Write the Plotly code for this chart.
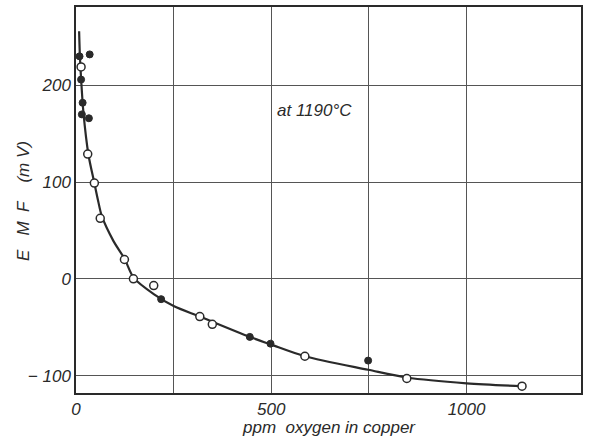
import plotly.graph_objects as go

# Curve (fitted line) through the data
curve_x = [8, 10, 13, 19, 32, 47, 57, 66, 96, 124, 148, 200, 250, 317, 445, 500, 586, 748, 847, 1000, 1142]
curve_y = [256, 230, 207, 172, 128, 99, 80, 65, 39, 21, 1, -16, -28, -39, -60, -68, -80, -94, -102, -108, -111]

# Open-circle measurements
open_x = [13, 30, 47, 62, 124, 147, 199, 317, 349, 586, 847, 1142]
open_y = [219, 129, 99, 62.6, 20, 0, -7, -39, -47, -80, -103, -111]

# Filled-circle measurements
filled_x = [9, 35, 13, 17, 15, 33, 218, 445, 498, 748]
filled_y = [230, 232, 206, 182, 170, 166, -21, -60, -67, -84.5]

x_grid = [0, 250, 500, 750, 1000]
x_ticktext = ["0", "", "500", "", "1000"]
y_grid = [-100, 0, 100, 200]
y_ticktext = ["\u2212 100", "0", "100", "200"]

ink = "#2a2a2a"
font_family = "Liberation Sans, Arial, sans-serif"
nb = "\u00a0"

fig = go.Figure()
fig.add_trace(go.Scatter(x=curve_x, y=curve_y, mode="lines",
                         line=dict(color=ink, width=2.2, shape="spline", smoothing=0.8),
                         hoverinfo="skip", showlegend=False))
fig.add_trace(go.Scatter(x=filled_x, y=filled_y, mode="markers",
                         marker=dict(size=7, color=ink, line=dict(color=ink, width=1)),
                         showlegend=False))
fig.add_trace(go.Scatter(x=open_x, y=open_y, mode="markers",
                         marker=dict(size=8, color="white", line=dict(color=ink, width=1.5)),
                         showlegend=False))

plot_h = 441 - 5 - 48
plot_w = 590 - 76 - 9

fig.update_layout(
    width=590, height=441,
    margin=dict(l=76, r=9, t=5, b=48),
    paper_bgcolor="white", plot_bgcolor="white",
    font=dict(family=font_family, size=17, color=ink, style="italic"),
    showlegend=False,
    xaxis=dict(range=[0, 1293], tickvals=x_grid, ticktext=x_ticktext,
               showgrid=True, gridcolor="#555", gridwidth=1, zeroline=False,
               showline=True, linecolor=ink, linewidth=1.5, mirror=True, ticks="",
               tickfont=dict(size=17, style="italic")),
    yaxis=dict(range=[-118, 281], tickvals=y_grid, ticktext=y_ticktext,
               showgrid=True, gridcolor="#555", gridwidth=1, zeroline=False,
               showline=True, linecolor=ink, linewidth=1.5, mirror=True, ticks="",
               tickfont=dict(size=17, style="italic")),
    annotations=[
        dict(text="at 1190\u00b0C", x=509, y=174, xref="x", yref="y",
             xanchor="left", yanchor="middle", showarrow=False,
             font=dict(size=17, style="italic")),
        dict(text="ppm" + nb * 2 + "oxygen in copper", x=0.5, y=-0.09, xref="paper", yref="paper",
             xanchor="center", yanchor="middle", showarrow=False,
             font=dict(size=17, style="italic")),
        dict(text="E" + nb * 3 + "M" + nb * 2 + "F" + nb * 4 + "(m" + nb + "V)",
             x=(24 - 76) / plot_w, y=(441 - 48 - 200) / plot_h, xref="paper", yref="paper",
             showarrow=False, textangle=-90, xanchor="center", yanchor="middle",
             font=dict(size=17, style="italic")),
    ],
)

fig.write_html("out.html")
